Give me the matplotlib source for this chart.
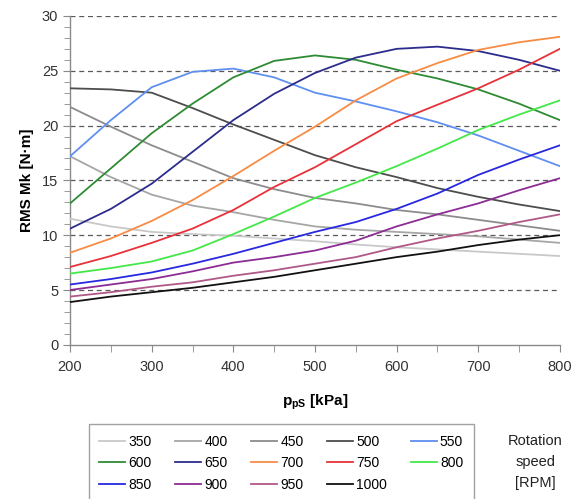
import matplotlib
matplotlib.use("Agg")
import matplotlib.pyplot as plt
from matplotlib.ticker import MultipleLocator

plt.rcParams['font.family'] = ['Liberation Sans', 'DejaVu Sans']
plt.rcParams['mathtext.fontset'] = 'custom'
plt.rcParams['mathtext.rm'] = 'Liberation Sans'
plt.rcParams['mathtext.bf'] = 'Liberation Sans:bold'

# supply pressure [kPa]
p_ps = [200, 250, 300, 350, 400, 450, 500, 550, 600, 650, 700, 750, 800]

# rotation speed [RPM] -> RMS torque [N*m]
speeds = [350, 400, 450, 500, 550, 600, 650, 700, 750, 800, 850, 900, 950, 1000]
mk_350 = [11.5, 10.8, 10.3, 10.1, 9.95, 9.7, 9.45, 9.15, 8.9, 8.7, 8.5, 8.3, 8.1]
mk_400 = [17.2, 15.3, 13.7, 12.7, 12.1, 11.4, 10.8, 10.5, 10.3, 10.1, 9.9, 9.6, 9.3]
mk_450 = [21.7, 19.9, 18.2, 16.7, 15.2, 14.2, 13.4, 12.9, 12.3, 11.9, 11.4, 10.9, 10.4]
mk_500 = [23.4, 23.3, 23.0, 21.6, 20.1, 18.7, 17.3, 16.2, 15.3, 14.3, 13.5, 12.8, 12.2]
mk_550 = [17.2, 20.5, 23.5, 24.9, 25.2, 24.4, 23.0, 22.2, 21.3, 20.3, 19.1, 17.7, 16.3]
mk_600 = [12.9, 16.1, 19.3, 22.0, 24.4, 25.9, 26.4, 26.0, 25.1, 24.3, 23.3, 22.0, 20.5]
mk_650 = [10.6, 12.4, 14.7, 17.6, 20.5, 22.9, 24.8, 26.2, 27.0, 27.2, 26.8, 26.0, 25.0]
mk_700 = [8.4, 9.7, 11.3, 13.2, 15.4, 17.7, 19.9, 22.3, 24.3, 25.7, 26.9, 27.6, 28.1]
mk_750 = [7.1, 8.1, 9.3, 10.6, 12.3, 14.4, 16.2, 18.3, 20.4, 21.9, 23.4, 25.1, 27.0]
mk_800 = [6.5, 7.0, 7.6, 8.6, 10.1, 11.7, 13.4, 14.8, 16.3, 17.9, 19.6, 21.0, 22.3]
mk_850 = [5.5, 6.0, 6.6, 7.4, 8.3, 9.3, 10.3, 11.2, 12.4, 13.8, 15.5, 16.9, 18.2]
mk_900 = [5.0, 5.5, 6.0, 6.7, 7.5, 8.0, 8.6, 9.5, 10.8, 11.9, 12.9, 14.1, 15.2]
mk_950 = [4.4, 4.8, 5.3, 5.7, 6.3, 6.8, 7.4, 8.0, 8.9, 9.7, 10.4, 11.2, 11.9]
mk_1000 = [3.9, 4.4, 4.8, 5.2, 5.7, 6.2, 6.8, 7.4, 8.0, 8.5, 9.1, 9.6, 10.0]

series = [mk_350, mk_400, mk_450, mk_500, mk_550, mk_600, mk_650,
          mk_700, mk_750, mk_800, mk_850, mk_900, mk_950, mk_1000]
colors = ['#c8c8c8', '#a6a6a6', '#8c8c8c', '#4d4d4d', '#5f8ff0', '#2e8b34',
          '#2c2c8c', '#f88c45', '#e8323a', '#44e848', '#2828e0', '#8c2c94',
          '#b05888', '#111111']

fig = plt.figure(figsize=(5.79, 4.99), dpi=100)
ax = fig.add_axes([0.121, 0.309, 0.846, 0.659])

handles = []
for spd, vals, col in zip(speeds, series, colors):
    h, = ax.plot(p_ps, vals, color=col, lw=1.3, label=str(spd), zorder=3,
                 solid_joinstyle='round')
    handles.append(h)

ax.set_xlim(200, 800)
ax.set_ylim(0, 30)
ax.xaxis.set_major_locator(MultipleLocator(100))
ax.xaxis.set_minor_locator(MultipleLocator(50))
ax.yaxis.set_major_locator(MultipleLocator(5))
ax.yaxis.set_minor_locator(MultipleLocator(1))

for y in range(5, 31, 5):
    ax.axhline(y, color='#5a5a5a', lw=0.9, ls=(0, (4, 3)), zorder=1)

for s in ['top', 'right']:
    ax.spines[s].set_visible(False)
for s in ['left', 'bottom']:
    ax.spines[s].set_color('#8a8a8a')
    ax.spines[s].set_linewidth(1.0)

ax.tick_params(which='both', direction='out', color='#8a8a8a', labelsize=10.5,
               labelcolor='#333333')
ax.tick_params(which='major', length=5)
ax.tick_params(which='minor', length=4)
ax.tick_params(axis='x', which='both', length=5, pad=6)

ax.set_xlabel(r'$\mathbf{p}_{\mathbf{pS}}$ [kPa]', fontsize=11, fontweight='bold',
              labelpad=13)
ax.set_ylabel('RMS Mk [N·m]', fontsize=11, fontweight='bold', labelpad=6)

# legend filled row by row, like the original
order = []
for c in range(5):
    for r in range(3):
        i = r * 5 + c
        if i < len(handles):
            order.append(i)
leg = fig.legend([handles[i] for i in order], [str(speeds[i]) for i in order],
                 loc='upper left', bbox_to_anchor=(0.153, 0.150), ncol=5,
                 fontsize=10, frameon=True, fancybox=False, handlelength=1.9,
                 handletextpad=0.2, columnspacing=1.7, labelspacing=0.55,
                 borderpad=0.75, borderaxespad=0)
leg.get_frame().set_edgecolor('#8a8a8a')
leg.get_frame().set_linewidth(1.0)

fig.text(0.925, 0.074, 'Rotation\nspeed\n[RPM]', ha='center', va='center',
         fontsize=10.5, linespacing=1.6, color='#222222')

fig.savefig('out.png', dpi=100)
